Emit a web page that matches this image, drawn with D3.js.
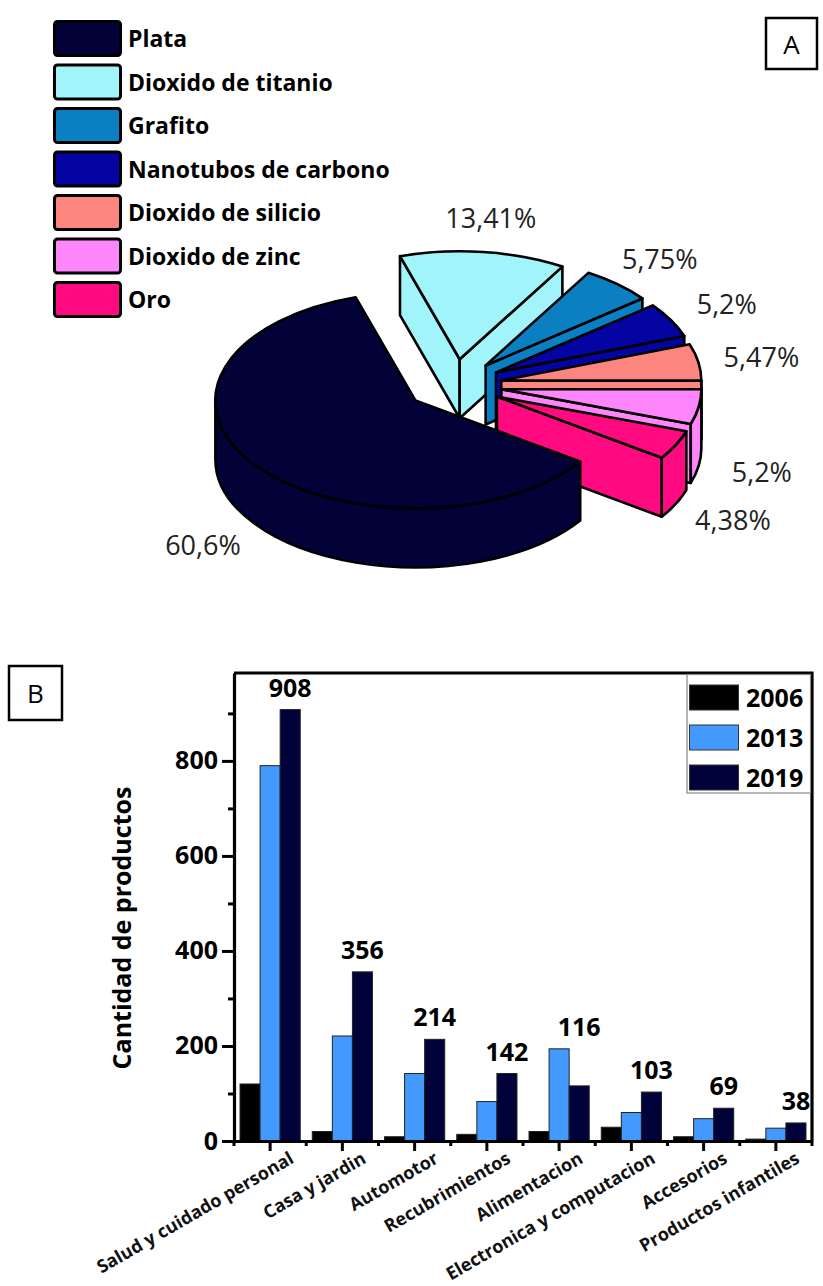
<!DOCTYPE html>
<html><head><meta charset="utf-8">
<script src="https://cdn.jsdelivr.net/npm/d3@7"></script>
<style>body{margin:0;background:#fff}svg{display:block}text{font-family:"Open Sans",sans-serif}</style>
</head><body><svg id="c" width="823" height="1286"></svg>
<script>
// ---------- data: panel A ----------
const pieLabels = ["Plata","Dioxido de titanio","Grafito","Nanotubos de carbono","Dioxido de silicio","Dioxido de zinc","Oro"];
const pieValues = [60.6, 13.41, 5.75, 5.2, 5.47, 5.2, 4.38];
const pieText = ["60,6%","13,41%","5,75%","5,2%","5,47%","5,2%","4,38%"];
const pieColors = ["#020238","#a0f4fa","#0a80c2","#0404a2","#fc8580","#ff85fa","#ff0a80"];

// ---------- data: panel B ----------
const categories = ["Salud y cuidado personal","Casa y jardin","Automotor","Recubrimientos","Alimentacion","Electronica y computacion","Accesorios","Productos infantiles"];
const years = ["2006","2013","2019"];
const v2006 = [120, 20, 9, 14, 20, 29, 9, 4];
const v2013 = [790, 221, 142, 83, 194, 60, 47, 27];
const v2019 = [908, 356, 214, 142, 116, 103, 69, 38];
const yearColors = ["#000000","#4499ff","#02023a"];
const yTickValues = [0,200,400,600,800];
const yMinorValues = [100,300,500,700,900];

const svg = d3.select("#c");
svg.append("rect").attr("width",823).attr("height",1286).attr("fill","#fff");

// ---------- Panel A: 3D exploded pie ----------
const P = {cx:454, cy:385, rx:200, ry:108, h:59, explode:0.24, start:124.5};
const rad = Math.PI/180;
const arcs = d3.pie().sort(null).value(d=>d)
  .startAngle(P.start*rad).endAngle((P.start+360)*rad)(pieValues);
const slices = arcs.map((a,i)=>{
  const p0 = a.startAngle - Math.PI/2, p1 = a.endAngle - Math.PI/2, pm = (p0+p1)/2;
  return {i, p0, p1, pm,
    ox: P.cx + P.explode*P.rx*Math.cos(pm),
    oy: P.cy + P.explode*P.ry*Math.sin(pm)};
});
const pt = (s, phi, dz=0) => [s.ox + P.rx*Math.cos(phi), s.oy + P.ry*Math.sin(phi) + dz];
const gA = svg.append("g").attr("stroke","#000").attr("stroke-width",2.6).attr("stroke-linejoin","round");
const order = slices.slice().sort((a,b)=>Math.sin(a.pm)-Math.sin(b.pm));
order.forEach(s=>{
  const col = pieColors[s.i];
  const face = phi => {
    const a = pt(s,phi), b = pt(s,phi,P.h);
    return `M${s.ox},${s.oy}L${a}L${b}L${s.ox},${s.oy+P.h}Z`;
  };
  if (Math.cos(s.p0) < 0) gA.append("path").attr("d",face(s.p0)).attr("fill",col);
  if (Math.cos(s.p1) > 0) gA.append("path").attr("d",face(s.p1)).attr("fill",col);
  [-1,0,1].forEach(k=>{
    const a = Math.max(s.p0, 2*Math.PI*k), b = Math.min(s.p1, 2*Math.PI*k+Math.PI);
    if (b > a + 1e-6) {
      const d = `M${pt(s,a)}A${P.rx},${P.ry} 0 0 1 ${pt(s,b)}L${pt(s,b,P.h)}A${P.rx},${P.ry} 0 0 0 ${pt(s,a,P.h)}Z`;
      gA.append("path").attr("d",d).attr("fill",col);
    }
  });
  const large = (s.p1 - s.p0) > Math.PI ? 1 : 0;
  gA.append("path")
    .attr("d",`M${s.ox},${s.oy}L${pt(s,s.p0)}A${P.rx},${P.ry} 0 ${large} 1 ${pt(s,s.p1)}Z`)
    .attr("fill",col);
});
svg.append("g").selectAll("text").data(slices).join("text")
  .attr("x", s => s.ox + 1.32*P.rx*Math.cos(s.pm))
  .attr("y", s => s.oy + 1.32*P.ry*Math.sin(s.pm) + (Math.sin(s.pm) > 0 ? P.h : 0))
  .attr("text-anchor","middle").attr("dominant-baseline","central")
  .attr("font-size",27).attr("fill","#222")
  .text(s => pieText[s.i]);

// legend A
const legA = svg.append("g");
pieLabels.forEach((lab,i)=>{
  const top = 20 + i*43.5;
  legA.append("rect").attr("x",54.5).attr("y",top+1.5).attr("width",66).attr("height",34)
    .attr("rx",3).attr("fill",pieColors[i]).attr("stroke","#000").attr("stroke-width",3);
  legA.append("text").attr("x",128).attr("y",top+27).attr("font-size",23)
    .attr("font-weight","bold").attr("fill","#000").text(lab);
});
svg.append("rect").attr("x",766).attr("y",18).attr("width",51).attr("height",51)
  .attr("fill","#fff").attr("stroke","#000").attr("stroke-width",2.5);
svg.append("text").attr("x",791.5).attr("y",44).attr("text-anchor","middle")
  .attr("dominant-baseline","central").attr("font-size",26).text("A");

// ---------- Panel B: grouped bars ----------
const B = {left:234, right:812, top:673, bottom:1141};
const y = d3.scaleLinear().domain([0,985]).range([B.bottom,B.top]);
const x0 = d3.scaleBand().domain(categories).range([B.left,B.right]);
const x1 = d3.scaleBand().domain(years).range([0,x0.bandwidth()]).paddingOuter(0.3);
const series = [v2006, v2013, v2019];
const gB = svg.append("g");

const groups = gB.selectAll("g.grp").data(categories).join("g")
  .attr("class","grp").attr("transform",c=>`translate(${x0(c)},0)`);
groups.selectAll("rect").data((c,ci)=>years.map((yr,yi)=>({yr,yi,v:series[yi][ci]}))).join("rect")
  .attr("x",d=>x1(d.yr)).attr("y",d=>y(d.v))
  .attr("width",x1.bandwidth()).attr("height",d=>y(0)-y(d.v))
  .attr("fill",d=>yearColors[d.yi]).attr("stroke","#222").attr("stroke-width",1);

gB.selectAll("text.val").data(categories).join("text").attr("class","val")
  .attr("x",(c,ci)=>x0(c)+x1("2019")+x1.bandwidth()/2)
  .attr("y",(c,ci)=>y(Math.max(v2006[ci],v2013[ci],v2019[ci]))-13)
  .attr("text-anchor","middle").attr("font-size",25).attr("font-weight","bold")
  .text((c,ci)=>v2019[ci]);

const yAx = gB.append("g").attr("transform",`translate(${B.left},0)`)
  .call(d3.axisLeft(y).tickValues(yTickValues).tickSize(12).tickSizeOuter(0).tickPadding(4));
yAx.select(".domain").attr("stroke-width",3.2);
yAx.selectAll(".tick line").attr("stroke-width",3);
yAx.selectAll(".tick text").attr("font-size",25).attr("font-weight","bold").attr("fill","#000")
  .attr("font-family","'Open Sans',sans-serif");
const yMin = gB.append("g").attr("transform",`translate(${B.left},0)`)
  .call(d3.axisLeft(y).tickValues(yMinorValues).tickSize(6).tickFormat(""));
yMin.select(".domain").remove();
yMin.selectAll(".tick line").attr("stroke-width",3);

const xAx = gB.append("g").attr("transform",`translate(0,${B.bottom})`)
  .call(d3.axisBottom(x0).tickSize(10).tickSizeOuter(0).tickFormat(""));
xAx.select(".domain").attr("stroke-width",3.2);
xAx.selectAll(".tick line").attr("stroke-width",3);
const bounds = categories.map(c=>x0(c)).concat([B.right]);
gB.append("g").selectAll("line").data(bounds).join("line")
  .attr("x1",d=>d).attr("x2",d=>d).attr("y1",B.bottom).attr("y2",B.bottom+5)
  .attr("stroke","#000").attr("stroke-width",3);
gB.append("g").selectAll("text").data(categories).join("text")
  .attr("transform",c=>`translate(${x0(c)+x0.bandwidth()/2+25},${B.bottom+21}) rotate(-30)`)
  .attr("text-anchor","end").attr("font-size",18).attr("font-weight","bold").attr("fill","#111")
  .text(c=>c);

gB.append("path").attr("d",`M${B.left},${B.top}H${B.right}V${B.bottom}`)
  .attr("fill","none").attr("stroke","#000").attr("stroke-width",3.2);

gB.append("text").attr("transform",`translate(131,928) rotate(-90)`)
  .attr("text-anchor","middle").attr("font-size",25).attr("font-weight","bold")
  .text("Cantidad de productos");

const legB = gB.append("g");
legB.append("rect").attr("x",687).attr("y",B.top+1.5).attr("width",B.right-687-1.5).attr("height",793-B.top-1.5)
  .attr("fill","#fff").attr("stroke","#888").attr("stroke-width",1.2);
years.forEach((yr,i)=>{
  legB.append("rect").attr("x",689.5).attr("y",685+i*40).attr("width",49).attr("height",25)
    .attr("fill",yearColors[i]).attr("stroke","#333").attr("stroke-width",1);
  legB.append("text").attr("x",746).attr("y",707+i*40).attr("font-size",25)
    .attr("font-weight","bold").text(yr);
});

svg.append("rect").attr("x",9).attr("y",666).attr("width",53).attr("height",54)
  .attr("fill","#fff").attr("stroke","#000").attr("stroke-width",2.5);
svg.append("text").attr("x",35.5).attr("y",693).attr("text-anchor","middle")
  .attr("dominant-baseline","central").attr("font-size",26).text("B");
</script></body></html>
